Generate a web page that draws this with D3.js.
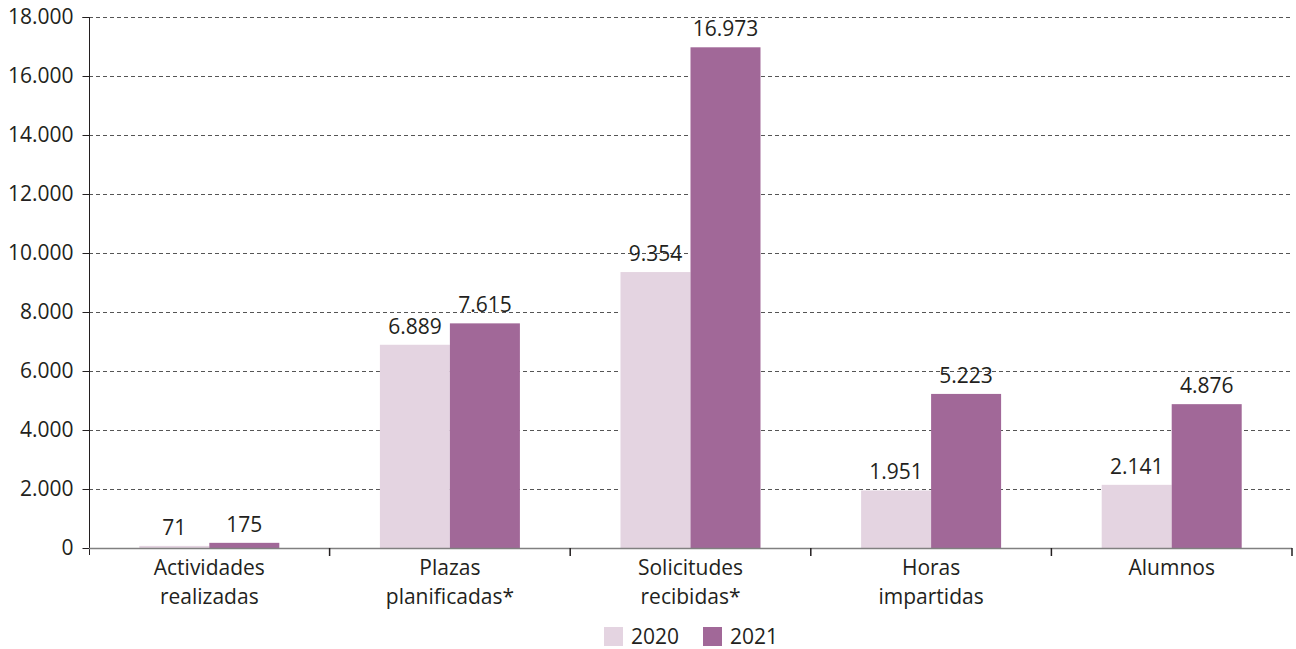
<!DOCTYPE html>
<html><head><meta charset="utf-8">
<script src="https://cdn.jsdelivr.net/npm/d3@7"></script>
<style>body{margin:0;background:#fff}svg{display:block}text{font-family:"Open Sans",sans-serif;fill:#231f20}</style>
</head><body><svg id="c" width="1296" height="649"></svg>
<script>
const categories = [["Actividades","realizadas"],["Plazas","planificadas*"],["Solicitudes","recibidas*"],["Horas","impartidas"],["Alumnos"]];
const series = ["2020","2021"];
const values2020 = [71, 6889, 9354, 1951, 2141];
const values2021 = [175, 7615, 16973, 5223, 4876];
const yTicks = [0,2000,4000,6000,8000,10000,12000,14000,16000,18000];
const colors = ["#e4d4e1","#a16898"];

(function(){
const svg = d3.select("#c");
const mL = 89, mR = 1292, mT = 17, mB = 548;
const fs = 21;
const fmt = v => d3.format(",")(v).replace(/,/g, ".");
const x = d3.scaleBand().domain(d3.range(categories.length)).range([mL, mR]);
const x1 = d3.scaleBand().domain(series).range([50.3, x.bandwidth() - 50.3]);
const y = d3.scaleLinear().domain([0, 18000]).range([mB, mT]);

// gridlines
svg.append("g").selectAll("line").data(yTicks.filter(d => d > 0)).join("line")
  .attr("x1", mL).attr("x2", mR).attr("y1", d => y(d)+0.5).attr("y2", d => y(d)+0.5)
  .attr("stroke", "#555").attr("stroke-width", 1).attr("stroke-dasharray", "4,3");

// bars
const data = [values2020, values2021];
categories.forEach((c, i) => {
  series.forEach((s, j) => {
    const v = data[j][i];
    svg.append("rect").attr("x", x(i) + x1(s)).attr("width", x1.bandwidth())
      .attr("y", y(v)).attr("height", mB - y(v)).attr("fill", colors[j]);
    svg.append("text").attr("x", x(i) + x1(s) + x1.bandwidth()/2).attr("y", y(v) - 11)
      .attr("text-anchor", "middle").attr("font-size", fs).text(fmt(v));
  });
});

// y axis
const ya = svg.append("g").attr("transform", `translate(${mL+0.5},0)`)
  .call(d3.axisLeft(y).tickValues(yTicks).tickFormat(fmt).tickSize(7).tickPadding(9));
ya.select(".domain").attr("d", `M-7,${mT+0.5}H0V${mB+7}`).attr("stroke", "#231f20");
ya.selectAll(".tick line").attr("stroke", "#231f20");
ya.selectAll("text").attr("font-size", fs).attr("font-family", "Open Sans").attr("fill", "#231f20");

// x axis
svg.append("line").attr("x1", mL).attr("x2", mR).attr("y1", mB+0.5).attr("y2", mB+0.5)
  .attr("stroke", "#808080").attr("stroke-width", 1.5);
d3.range(1, categories.length+1).forEach(i => {
  const xp = mL + i * x.step();
  svg.append("line").attr("x1", xp).attr("x2", xp).attr("y1", mB).attr("y2", mB+8)
    .attr("stroke", "#231f20").attr("stroke-width", 1.5);
});
categories.forEach((c, i) => {
  const t = svg.append("text").attr("text-anchor", "middle").attr("font-size", fs)
    .attr("transform", `translate(${x(i) + x.bandwidth()/2},${mB+27})`);
  c.forEach((ln, k) => t.append("tspan").attr("x", 0).attr("y", k*29).text(ln));
});

// legend
const legX = [604, 703];
series.forEach((s, j) => {
  svg.append("rect").attr("x", legX[j]).attr("y", 627).attr("width", 19).attr("height", 19).attr("fill", colors[j]);
  svg.append("text").attr("x", legX[j] + 27).attr("y", 644).attr("font-size", fs).text(s);
});
})();
</script></body></html>
